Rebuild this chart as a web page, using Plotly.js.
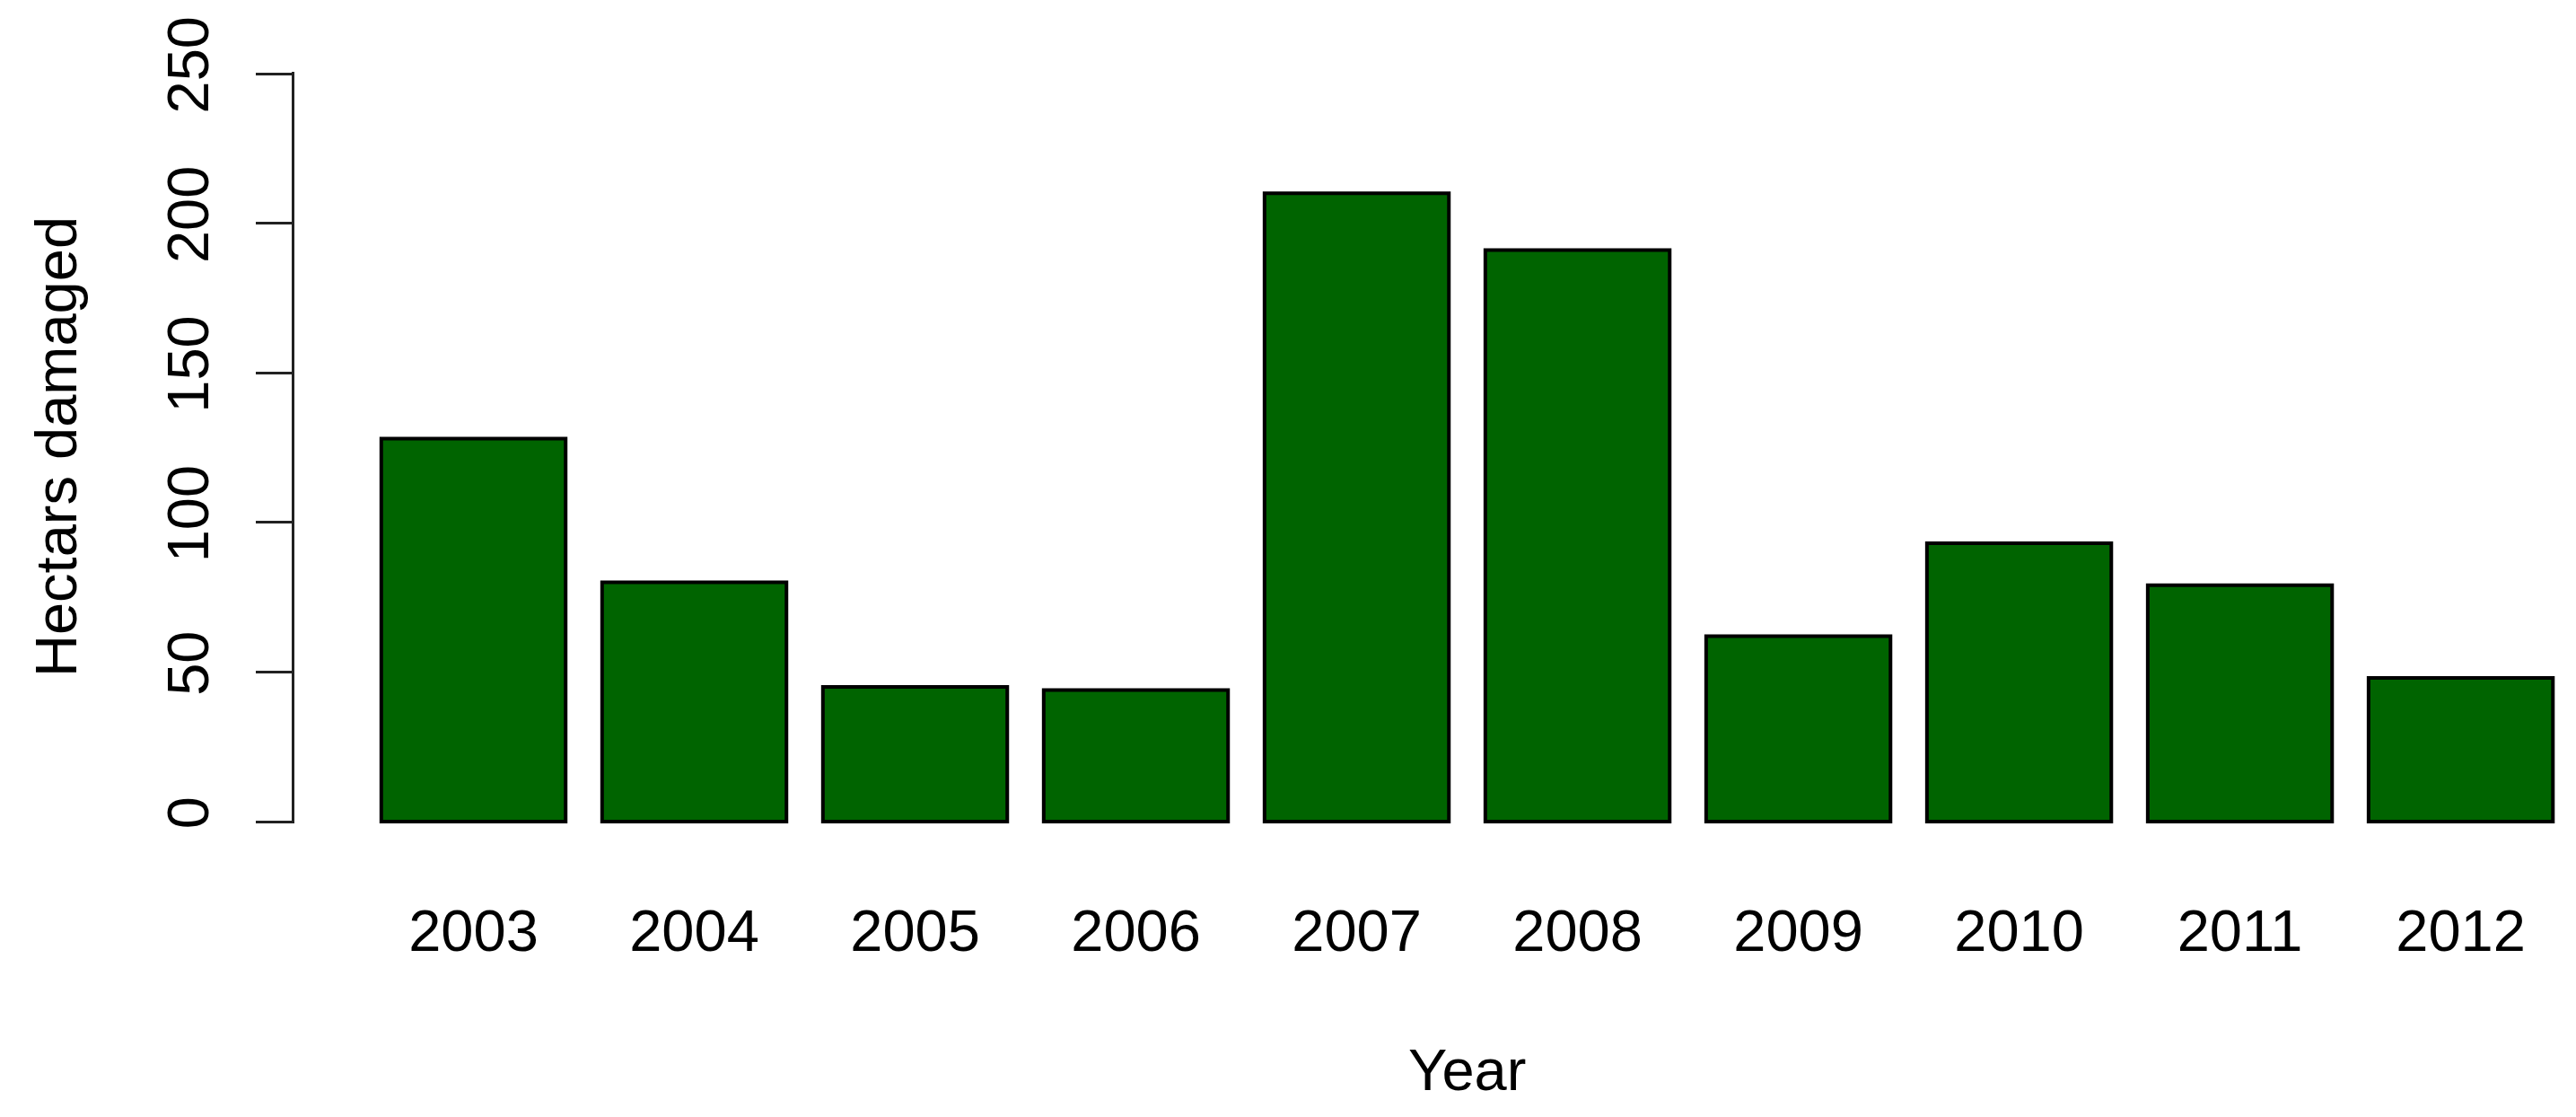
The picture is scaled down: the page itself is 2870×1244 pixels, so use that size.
<!DOCTYPE html>
<html>
<head>
<meta charset="utf-8">
<script src="https://cdn.plot.ly/plotly-3.0.1.min.js"></script>
<style>html,body{margin:0;padding:0;background:#fff;overflow:hidden;}</style>
</head>
<body>
<div id="chart" style="width:2870px;height:1244px;"></div>
<script>
const years = ["2003","2004","2005","2006","2007","2008","2009","2010","2011","2012"];
const hectares = [128, 80, 45, 44, 210, 191, 62, 93, 79, 48];
const yTicks = [0, 50, 100, 150, 200, 250];
const xTitle = "Year";
const yTitle = "Hectars damaged";

const W = 2870, H = 1244;
const margin = {l: 328, r: 0, t: 80, b: 327};
const plotW = W - margin.l - margin.r;
const plotH = H - margin.t - margin.b;

const FONT = "Liberation Sans, Arial, Helvetica, sans-serif";
const FS = 65;

const trace = {
  type: "bar",
  x: years,
  y: hectares,
  marker: {color: "#006400", line: {color: "#000000", width: 4}},
  hoverinfo: "x+y"
};

const layout = {
  width: W, height: H,
  margin: margin,
  paper_bgcolor: "#ffffff",
  plot_bgcolor: "#ffffff",
  showlegend: false,
  bargap: 0.165,
  font: {family: FONT, color: "#000000", size: FS},
  xaxis: {
    type: "category",
    range: [-0.811, 9.522],
    showline: false, showgrid: false, zeroline: false,
    ticks: "", ticklabelstandoff: 76,
    tickfont: {family: FONT, size: FS, color: "#000000"}
  },
  yaxis: {
    range: [-0.6, 250.6],
    tickvals: yTicks,
    ticktext: yTicks.map(String),
    tickangle: -90,
    showline: true, linecolor: "#222222", linewidth: 3,
    ticks: "outside", ticklen: 40, tickwidth: 3, tickcolor: "#222222",
    showgrid: false, zeroline: false,
    ticklabelstandoff: 27,
    tickfont: {family: FONT, size: FS, color: "#000000"}
  },
  annotations: [
    {text: xTitle, xref: "paper", yref: "paper",
     x: (1634 - margin.l) / plotW, y: -(1191 - (H - margin.b)) / plotH,
     xanchor: "center", yanchor: "middle", showarrow: false,
     font: {family: FONT, size: FS, color: "#000000"}},
    {text: yTitle, xref: "paper", yref: "paper", textangle: -90,
     x: (62 - margin.l) / plotW, y: 1 - (498 - margin.t) / plotH,
     xanchor: "center", yanchor: "middle", showarrow: false,
     font: {family: FONT, size: FS, color: "#000000"}}
  ]
};

Plotly.newPlot("chart", [trace], layout, {displayModeBar: false, staticPlot: true});
</script>
</body>
</html>
